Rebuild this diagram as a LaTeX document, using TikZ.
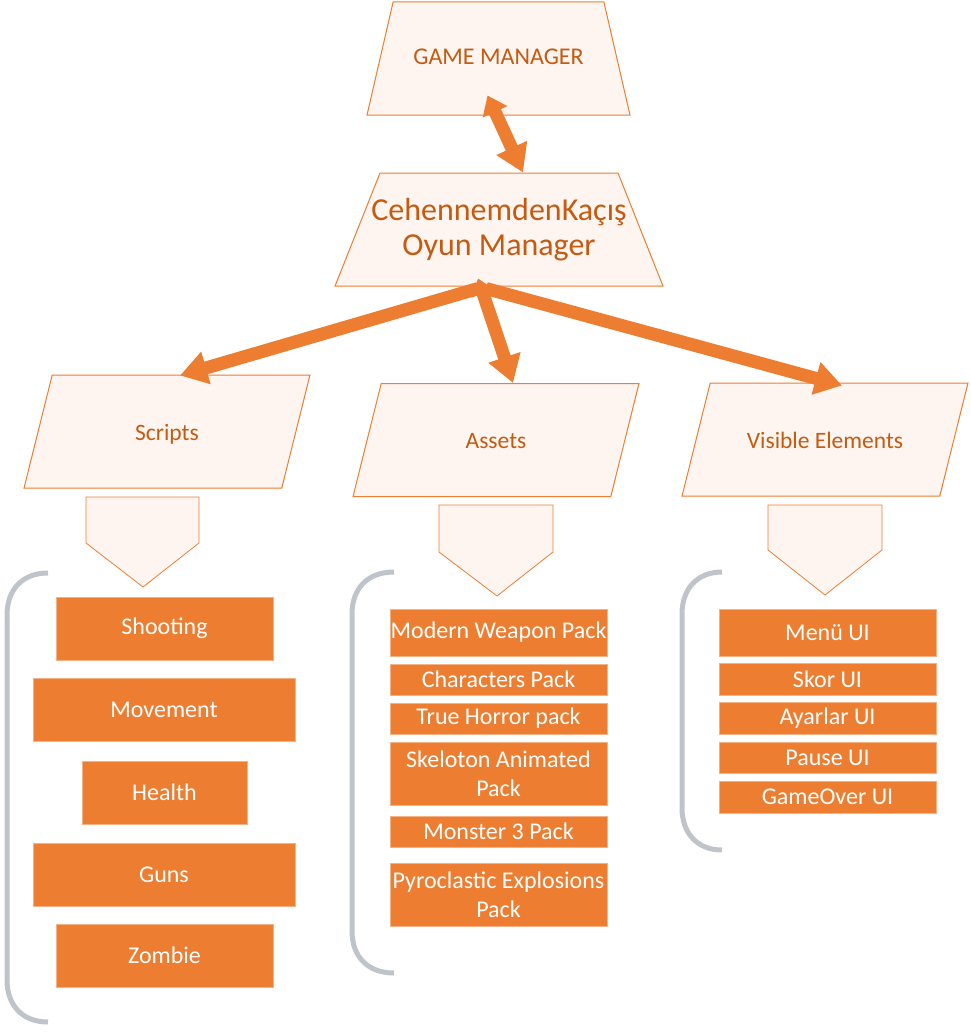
\documentclass[tikz,border=0pt]{standalone}
\usepackage{fontspec}
\setmainfont{Carlito}
\usepackage{tikz}
\usetikzlibrary{positioning,shapes.geometric,arrows.meta,calc}
\definecolor{accent}{RGB}{237,125,49}
\definecolor{accentdark}{RGB}{197,90,17}
\definecolor{paleorange}{RGB}{254,245,240}
\definecolor{boxedge}{RGB}{244,177,131}
\definecolor{bracketgray}{RGB}{191,196,202}

\begin{document}
\begin{tikzpicture}[x=1pt,y=-1pt,
  trap/.style={trapezium, draw=accent, line width=1pt, fill=paleorange,
    inner sep=0pt, text=accentdark, align=flush center},
  para/.style={trap, trapezium left angle=76, trapezium right angle=104,
    text width=229.6pt, text height=65pt, text depth=48pt,
    font=\fontsize{23.5}{27}\selectfont},
  box/.style={rectangle, fill=accent, draw=boxedge, line width=0.6pt, text=white,
    inner sep=0pt, minimum width=217pt, minimum height=31pt, align=center,
    font=\fontsize{24}{29}\selectfont},
  chev/.style={draw=accent, line width=0.8pt, fill=paleorange},
  bracket/.style={draw=bracketgray, line width=5pt},
  flow/.style={draw=accent, line width=13pt, -{Triangle[width=32pt,length=27pt]}}]
\useasboundingbox (0,0) rectangle (970,1033);

% managers
\node[trap, trapezium angle=77, text width=210.8pt, text height=63pt, text depth=50pt,
  font=\fontsize{24}{28}\selectfont] (gm) at (498.5,58.5) {GAME MANAGER};
\node[trap, trapezium angle=68.3, text width=238pt, text height=56.5pt, text depth=56.5pt]
  (oyun) at (499,229.5) {};
\node[text=accentdark, align=center, inner sep=0pt, font=\fontsize{32}{35}\selectfont]
  (oyunText) at (oyun.center) {CehennemdenKaçış\\Oyun Manager};

% groups
\node[para] (scripts) at (167,431.5) {Scripts};
\node[para] (assets)  at (496,440)   {Assets};
\node[para] (visible) at (825,439.5) {Visible Elements};

\draw[chev] (86,497) -- (199,497) -- (199,543) -- (143,587) -- (86,543) -- cycle;
\draw[chev] (439,505) -- (553,505) -- (553,552) -- (497,596) -- (439,552) -- cycle;
\draw[chev] (768,505) -- (882,505) -- (882,550) -- (825,595) -- (768,550) -- cycle;

% brackets
\draw[bracket] (48,573) .. controls (22,573) and (7,590) .. (7,615) -- (7,980)
  .. controls (7,1005) and (22,1022) .. (48,1022);
\draw[bracket] (394,572) .. controls (367,572) and (352,589) .. (352,614) -- (352,931)
  .. controls (352,956) and (367,973) .. (394,973);
\draw[bracket] (722,572) .. controls (697,572) and (682,589) .. (682,614) -- (682,808)
  .. controls (682,833) and (697,850) .. (722,850);

% scripts
\node[box, minimum height=63pt] (shooting) at (164.5,628.5) {Shooting};
\node[box, minimum height=63pt, minimum width=262pt] (movement) at (164,710) {Movement};
\node[box, minimum height=63pt, minimum width=165pt] (health) at (164.5,792.5) {Health};
\node[box, minimum height=63pt, minimum width=262pt] (guns) at (164,874.5) {Guns};
\node[box, minimum height=63pt] (zombie) at (164.5,955.5) {Zombie};

% assets
\node[box, minimum height=47pt] (weapon) at (498.5,632.5) {Modern Weapon Pack};
\node[box] (characters) at (498.5,679.5) {Characters Pack};
\node[box] (horror) at (498.5,718.5) {True Horror pack};
\node[box, minimum height=63pt] (skeleton) at (498.5,773.5) {Skeloton Animated\\Pack};
\node[box] (monster) at (498.5,831.5) {Monster 3 Pack};
\node[box, minimum height=63pt] (pyro) at (498.5,894.5) {Pyroclastic Explosions\\Pack};

% visible elements
\node[box, minimum height=47pt] (menu) at (827.5,632.5) {Menü UI};
\node[box, minimum height=32pt] (skor) at (827.5,679) {Skor UI};
\node[box, minimum height=32pt] (ayarlar) at (827.5,718) {Ayarlar UI};
\node[box] (pause) at (827.5,757.5) {Pause UI};
\node[box, minimum height=32pt] (gameover) at (827.5,797) {GameOver UI};

% arrows
\draw[flow, {Triangle[width=26pt,length=18pt]}-{Triangle[width=32pt,length=27pt]}]
  ($(gm.south)+(-11,-20)$) -- ($(oyun.north)+(24,0)$);
\coordinate (hub) at ($(oyun.south)+(-21,2)$);
\draw[flow] (hub) -- ($(scripts.north)+(13,1)$);
\draw[flow] ($(hub)+(8,0)$) -- ($(visible.north)+(17,3)$);
\draw[flow, {Triangle[width=24pt,length=16pt]}-{Triangle[width=32pt,length=27pt]}]
  ($(hub)+(0,-10)$) -- ($(assets.north)+(17,0)$);
\end{tikzpicture}
\end{document}
